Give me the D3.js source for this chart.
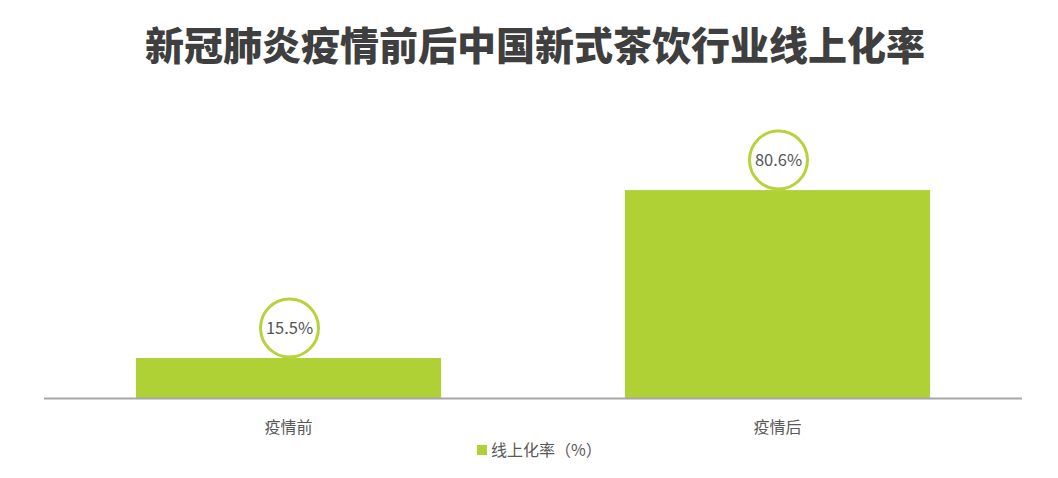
<!DOCTYPE html>
<html><head><meta charset="utf-8">
<script src="https://cdn.jsdelivr.net/npm/d3@7"></script>
<style>body{margin:0;background:#fff;} svg{display:block;font-family:"Noto Sans CJK SC","Noto Sans",sans-serif;}</style>
</head><body>
<svg id="c" width="1058" height="478"></svg>
<script>
const categories = ["疫情前", "疫情后"];
const values = [15.5, 80.6];
const labels = ["15.5%", "80.6%"];
const seriesName = "线上化率（%）";
const title = "新冠肺炎疫情前后中国新式茶饮行业线上化率";

const svg = d3.select("#c");
const color = "#b0d136";
const x = d3.scaleBand().domain(categories).range([44, 1022]).paddingInner(0.376).paddingOuter(0.188);
const y = d3.scaleLinear().domain([0, 100]).range([398, 140]);

svg.append("text").attr("x", 535).attr("y", 60).attr("text-anchor", "middle")
  .attr("font-size", 39).attr("font-weight", 900).attr("fill", "#3f3f3f").text(title);

svg.selectAll("rect.bar").data(values).join("rect").attr("class", "bar")
  .attr("x", (d, i) => x(categories[i])).attr("width", x.bandwidth())
  .attr("y", d => y(d)).attr("height", d => y(0) - y(d)).attr("fill", color);

svg.append("line").attr("x1", 44).attr("x2", 1022).attr("y1", 398.5).attr("y2", 398.5)
  .attr("stroke", "#a6a6a6").attr("stroke-width", 2);

const r = 29;
const g = svg.selectAll("g.lab").data(values).join("g").attr("class", "lab")
  .attr("transform", (d, i) => `translate(${x(categories[i]) + x.bandwidth() / 2 + 1},${y(d) - r - 1})`);
g.append("circle").attr("r", r).attr("fill", "#fff").attr("stroke", "#b6d33c").attr("stroke-width", 3);
g.append("text").attr("text-anchor", "middle").attr("dy", "0.36em").attr("font-size", 16.5)
  .attr("fill", "#555").text((d, i) => labels[i]);

svg.selectAll("text.cat").data(categories).join("text").attr("class", "cat")
  .attr("x", d => x(d) + x.bandwidth() / 2).attr("y", 433).attr("text-anchor", "middle")
  .attr("font-size", 16).attr("fill", "#595959").text(d => d);

svg.append("rect").attr("x", 477).attr("y", 445).attr("width", 10).attr("height", 10).attr("fill", color);
svg.append("text").attr("x", 491).attr("y", 456).attr("font-size", 16).attr("fill", "#595959").text(seriesName);
</script>
</body></html>
